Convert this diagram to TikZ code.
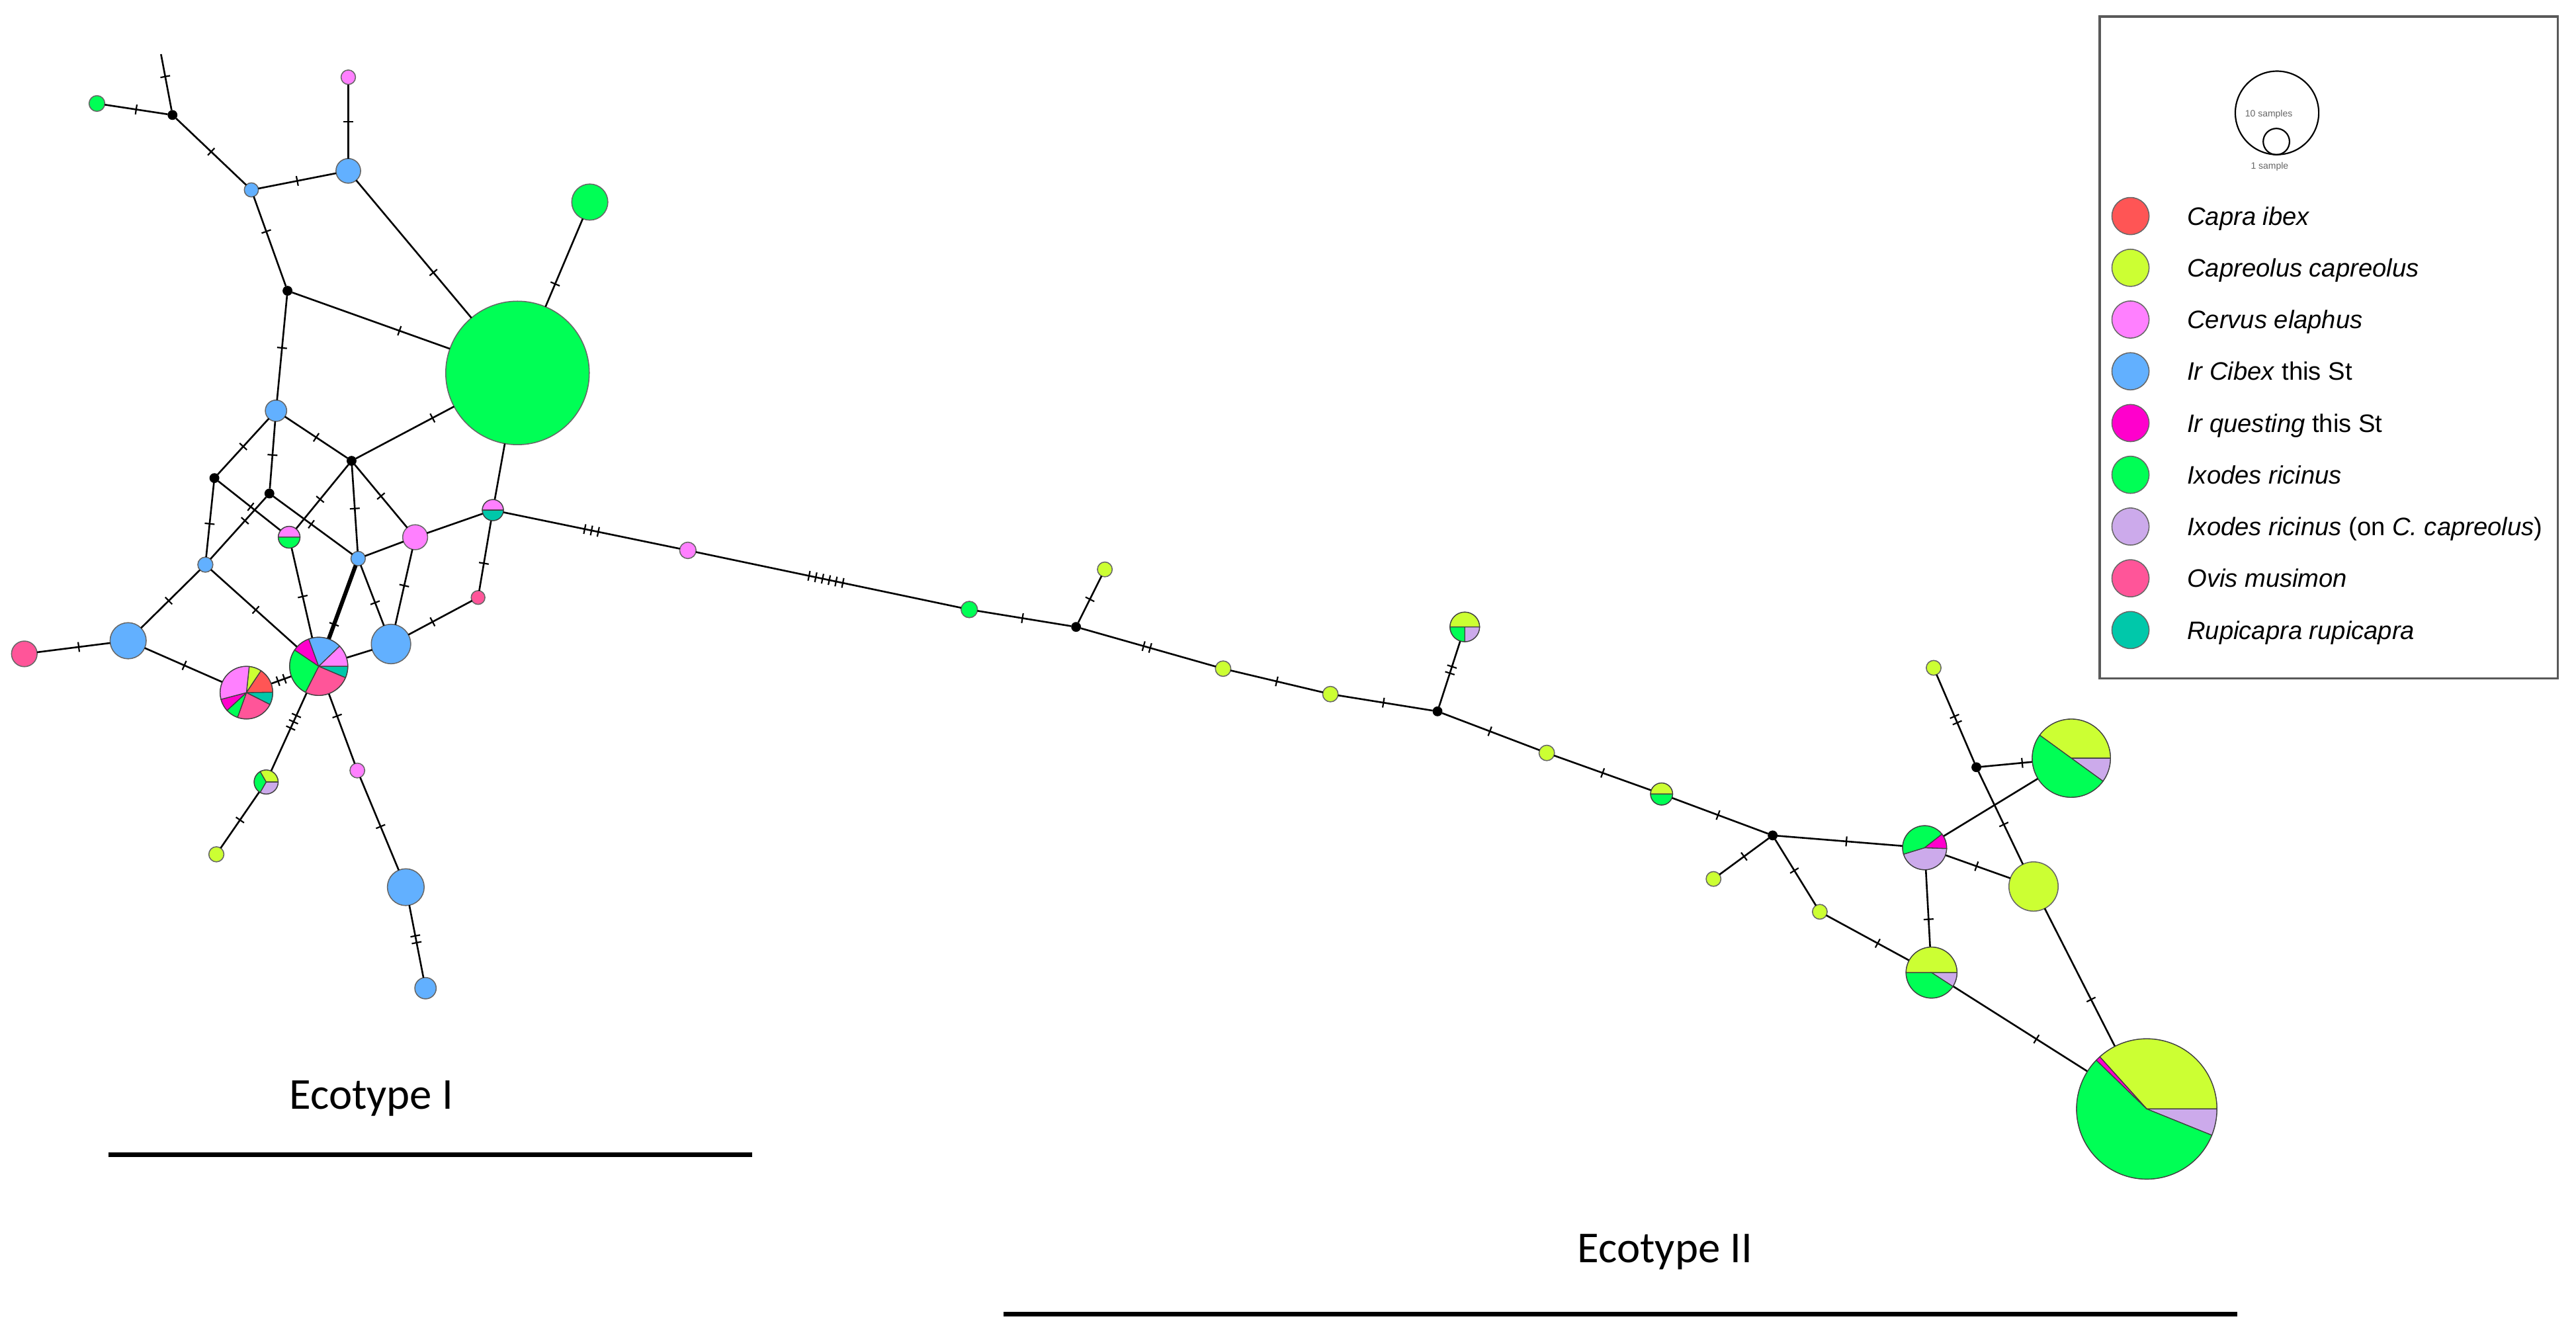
\documentclass[tikz,border=0pt]{standalone}
\usepackage{fontspec}
\setmainfont{Liberation Sans}
\newfontfamily\ecofont{Carlito}
\usetikzlibrary{calc}
\definecolor{capra}{RGB}{255,85,85}
\definecolor{capr}{RGB}{204,255,51}
\definecolor{cerv}{RGB}{255,128,255}
\definecolor{cib}{RGB}{98,176,255}
\definecolor{quest}{RGB}{255,0,204}
\definecolor{ixo}{RGB}{0,255,85}
\definecolor{ixon}{RGB}{204,170,235}
\definecolor{ovis}{RGB}{255,85,153}
\definecolor{rupi}{RGB}{0,200,170}
\tikzset{
  hap/.style={circle, inner sep=0pt, outer sep=0pt, minimum size=#1*0.04cm, draw=black!60, line width=0.35pt},
  mv/.style={circle, fill=black, inner sep=0pt, outer sep=0pt, minimum size=0.12cm},
  edge/.style={line width=0.6pt, black},
  lgtext/.style={anchor=base west, font=\fontsize{8.75}{10}\selectfont, inner sep=0pt},
  ecolabel/.style={anchor=base, inner sep=0pt, font=\ecofont\fontsize{15.3}{18}\selectfont},
  scalelabel/.style={inner sep=0pt, text=black!60, font=\fontsize{3.2}{4}\selectfont},
  pics/mt/.style={code={
    \foreach \k in {1,...,#1}{
      \draw[line width=0.5pt] ({(\k-(#1+1)/2)*0.084cm},-0.06cm) -- ++(0,0.12cm);
    }
  }},
}
\newcommand\pslice[5]{\filldraw[fill=#5, draw=black!75, line width=0.3pt] (#1.center) -- ++(#3:#2) arc[start angle=#3, end angle=#4, radius=#2] -- cycle;}
\begin{document}
\begin{tikzpicture}[x=0.02cm,y=-0.02cm]
\useasboundingbox (0,0) rectangle (1568,811);
% ---------- Ecotype I cluster ----------
\coordinate (top) at (98,33);
\node[hap=4.8, fill=ixo] (g1) at (59,63) {};
\node[mv] (mv1) at (105,70) {};
\node[hap=4.4, fill=cerv] (c1) at (212,47) {};
\node[hap=4.3, fill=cib] (b1) at (153,115.6) {};
\node[hap=7.5, fill=cib] (b2) at (212,104) {};
\node[hap=43.7, fill=ixo] (G) at (315,227) {};
\node[hap=11, fill=ixo] (g2) at (359,123) {};
\node[mv] (mv2) at (175,177) {};
\node[hap=6.5, fill=cib] (b3) at (168,250) {};
\node[mv] (mv3) at (214,280.5) {};
\node[mv] (mv4) at (130.5,291) {};
\node[mv] (mv5) at (164,300.4) {};
\node[hap=6.6] (pg) at (176,327) {};
\node[hap=4.6, fill=cib] (b4) at (125,343.7) {};
\node[hap=4.4, fill=cib] (b5) at (218,340) {};
\node[hap=7.6, fill=cerv] (c2) at (252.7,327) {};
\node[hap=6.4] (pt) at (300,310.5) {};
\node[hap=4.2, fill=ovis] (o1) at (291,363.7) {};
\node[hap=7.8, fill=ovis] (o2) at (14.8,398) {};
\node[hap=11, fill=cib] (b6) at (78,390) {};
\node[hap=16] (MP) at (150,421.6) {};
\node[hap=17.7] (BP) at (194,405.6) {};
\node[hap=12, fill=cib] (b7) at (238,392) {};
\node[hap=7.3] (SP) at (162,476) {};
\node[hap=4.6, fill=capr] (y1) at (131.7,520) {};
\node[hap=4.5, fill=cerv] (c3) at (217.5,469) {};
\node[hap=11.2, fill=cib] (b8) at (247,540) {};
\node[hap=6.5, fill=cib] (b9) at (259,601.5) {};
% ---------- chain and Ecotype II ----------
\node[hap=5, fill=cerv] (c4) at (418.7,335) {};
\node[hap=5, fill=ixo] (g3) at (590,371) {};
\node[mv] (mv6) at (655,381.6) {};
\node[hap=4.5, fill=capr] (y2) at (672.5,346.6) {};
\node[hap=4.7, fill=capr] (y3) at (744.5,407) {};
\node[hap=4.7, fill=capr] (y4) at (809.8,422.5) {};
\node[mv] (mv7) at (875,433) {};
\node[hap=9] (P3) at (891.6,381.6) {};
\node[hap=4.7, fill=capr] (y5) at (941.5,458.3) {};
\node[hap=6.7] (YG) at (1011.4,483.3) {};
\node[mv] (mv8) at (1079,508.5) {};
\node[hap=4.5, fill=capr] (y6) at (1043,535) {};
\node[hap=4.5, fill=capr] (y7) at (1107.7,555) {};
\node[hap=13.4] (P4) at (1171.5,516) {};
\node[hap=15.5] (P5) at (1175.7,592) {};
\node[hap=15, fill=capr] (Y8) at (1237.8,539.6) {};
\node[mv] (mv9) at (1203,467) {};
\node[hap=4.5, fill=capr] (y9) at (1177,406.5) {};
\node[hap=23.8] (P6) at (1260.8,461.5) {};
\node[hap=42.7] (P7) at (1306.7,675) {};
% ---------- edges: Ecotype I ----------
\draw[edge] (top) -- pic[pos=.4,sloped]{mt=1} (mv1);
\draw[edge] (g1) -- pic[pos=.5,sloped]{mt=1} (mv1);
\draw[edge] (mv1) -- pic[pos=.5,sloped]{mt=1} (b1);
\draw[edge] (c1) -- pic[pos=.5,sloped]{mt=1} (b2);
\draw[edge] (b1) -- pic[pos=.5,sloped]{mt=1} (b2);
\draw[edge] (b2) -- pic[pos=.67,sloped]{mt=1} (G);
\draw[edge] (b1) -- pic[pos=.39,sloped]{mt=1} (mv2);
\draw[edge] (mv2) -- pic[pos=.68,sloped]{mt=1} (G);
\draw[edge] (g2) -- pic[pos=.74,sloped]{mt=1} (G);
\draw[edge] (mv2) -- pic[pos=.5,sloped]{mt=1} (b3);
\draw[edge] (G) -- pic[pos=.22,sloped]{mt=1} (mv3);
\draw[edge] (b3) -- pic[pos=.5,sloped]{mt=1} (mv4);
\draw[edge] (b3) -- pic[pos=.5,sloped]{mt=1} (mv5);
\draw[edge] (b3) -- pic[pos=.5,sloped]{mt=1} (mv3);
\draw[edge] (mv4) -- pic[pos=.55,sloped]{mt=1} (b4);
\draw[edge] (mv4) -- pic[pos=.52,sloped]{mt=1} (pg);
\draw[edge] (mv5) -- pic[pos=.38,sloped]{mt=1} (b4);
\draw[edge] (mv5) -- pic[pos=.48,sloped]{mt=1} (b5);
\draw[edge] (mv3) -- pic[pos=.54,sloped]{mt=1} (pg);
\draw[edge] (mv3) -- pic[pos=.5,sloped]{mt=1} (b5);
\draw[edge] (mv3) -- pic[pos=.5,sloped]{mt=1} (c2);
\draw[edge] (b5) -- (c2);
\draw[edge] (c2) -- (pt);
\draw[edge] (G) -- (pt);
\draw[edge] (pt) -- pic[pos=.61,sloped]{mt=1} (o1);
\draw[edge] (o1) -- pic[pos=.62,sloped]{mt=1} (b7);
\draw[edge] (c2) -- pic[pos=.48,sloped]{mt=1} (b7);
\draw[edge] (b5) -- pic[pos=.62,sloped]{mt=1} (b7);
\draw[edge, line width=1.4pt] (b5) -- pic[pos=.8,sloped]{mt=1} (BP);
\draw[edge] (pg) -- pic[pos=.54,sloped]{mt=1} (BP);
\draw[edge] (b4) -- pic[pos=.52,sloped]{mt=1} (BP);
\draw[edge] (b4) -- pic[pos=.53,sloped]{mt=1} (b6);
\draw[edge] (o2) -- pic[pos=.57,sloped]{mt=1} (b6);
\draw[edge] (b6) -- pic[pos=.51,sloped]{mt=1} (MP);
\draw[edge] (MP) -- pic[pos=.5,sloped]{mt=2} (BP);
\draw[edge] (BP) -- (b7);
\draw[edge] (BP) -- pic[pos=.37,sloped]{mt=3} (SP);
\draw[edge] (SP) -- pic[pos=.5,sloped]{mt=1} (y1);
\draw[edge] (BP) -- pic[pos=.32,sloped]{mt=1} (c3);
\draw[edge] (c3) -- pic[pos=.53,sloped]{mt=1} (b8);
\draw[edge] (b8) -- pic[pos=.47,sloped]{mt=2} (b9);
% ---------- edges: chain and Ecotype II ----------
\draw[edge] (pt) -- pic[pos=.5,sloped]{mt=3} (c4);
\draw[edge] (c4) -- pic[pos=.49,sloped]{mt=6} (g3);
\draw[edge] (g3) -- pic[pos=.48,sloped]{mt=1} (mv6);
\draw[edge] (mv6) -- pic[pos=.5,sloped]{mt=1} (y2);
\draw[edge] (mv6) -- pic[pos=.49,sloped]{mt=2} (y3);
\draw[edge] (y3) -- pic[pos=.5,sloped]{mt=1} (y4);
\draw[edge] (y4) -- pic[pos=.48,sloped]{mt=1} (mv7);
\draw[edge] (mv7) -- pic[pos=.56,sloped]{mt=2} (P3);
\draw[edge] (mv7) -- pic[pos=.49,sloped]{mt=1} (y5);
\draw[edge] (y5) -- pic[pos=.5,sloped]{mt=1} (YG);
\draw[edge] (YG) -- pic[pos=.48,sloped]{mt=1} (mv8);
\draw[edge] (mv8) -- pic[pos=.5,sloped]{mt=1} (y6);
\draw[edge] (mv8) -- pic[pos=.47,sloped]{mt=1} (y7);
\draw[edge] (mv8) -- pic[pos=.55,sloped]{mt=1} (P4);
\draw[edge] (y7) -- pic[pos=.62,sloped]{mt=1} (P5);
\draw[edge] (P4) -- pic[pos=.64,sloped]{mt=1} (P5);
\draw[edge] (P4) -- pic[pos=.48,sloped]{mt=1} (Y8);
\draw[edge] (P4) -- (P6);
\draw[edge] (mv9) -- pic[pos=.8,sloped]{mt=1} (P6);
\draw[edge] (mv9) -- pic[pos=.49,sloped]{mt=2} (y9);
\draw[edge] (mv9) -- pic[pos=.57,sloped]{mt=1} (Y8);
\draw[edge] (Y8) -- pic[pos=.66,sloped]{mt=1} (P7);
\draw[edge] (P5) -- pic[pos=.62,sloped]{mt=1} (P7);
% ---------- pie slices (angles clockwise from east) ----------
\pslice{pg}{6.6}{180}{360}{cerv}\pslice{pg}{6.6}{0}{180}{ixo}
\pslice{pt}{6.4}{180}{360}{cerv}\pslice{pt}{6.4}{0}{180}{rupi}
\pslice{MP}{16}{276}{303.7}{capr}
\pslice{MP}{16}{303.7}{359.1}{capra}
\pslice{MP}{16}{-0.9}{26.8}{rupi}
\pslice{MP}{16}{26.8}{109.8}{ovis}
\pslice{MP}{16}{109.8}{137.5}{ixo}
\pslice{MP}{16}{137.5}{165.2}{quest}
\pslice{MP}{16}{165.2}{276}{cerv}
\pslice{BP}{17.7}{214}{250}{quest}
\pslice{BP}{17.7}{250}{316}{cib}
\pslice{BP}{17.7}{316}{360}{cerv}
\pslice{BP}{17.7}{0}{23}{rupi}
\pslice{BP}{17.7}{23}{117}{ovis}
\pslice{BP}{17.7}{117}{214}{ixo}
\pslice{SP}{7.3}{240}{360}{capr}
\pslice{SP}{7.3}{0}{120}{ixon}
\pslice{SP}{7.3}{120}{240}{ixo}
\pslice{P3}{9}{180}{360}{capr}
\pslice{P3}{9}{0}{90}{ixon}
\pslice{P3}{9}{90}{180}{ixo}
\pslice{YG}{6.7}{180}{360}{capr}
\pslice{YG}{6.7}{0}{180}{ixo}
\pslice{P4}{13.4}{2}{163}{ixon}
\pslice{P4}{13.4}{163}{322}{ixo}
\pslice{P4}{13.4}{322}{362}{quest}
\pslice{P5}{15.5}{180}{360}{capr}
\pslice{P5}{15.5}{0}{33}{ixon}
\pslice{P5}{15.5}{33}{180}{ixo}
\pslice{P6}{23.8}{216}{360}{capr}
\pslice{P6}{23.8}{0}{36}{ixon}
\pslice{P6}{23.8}{36}{216}{ixo}
\pslice{P7}{42.7}{228}{360}{capr}
\pslice{P7}{42.7}{0}{22}{ixon}
\pslice{P7}{42.7}{22}{224}{ixo}
\pslice{P7}{42.7}{224}{228}{quest}
% ---------- Ecotype labels ----------
\node[ecolabel] (eco1) at (226,675) {Ecotype I};
\node[ecolabel] (eco2) at (1013.5,768.5) {Ecotype II};
\coordinate (l1a) at (66,703); \coordinate (l1b) at (458,703);
\coordinate (l2a) at (611,800); \coordinate (l2b) at (1362,800);
\draw[line width=1.55pt] (l1a) -- (l1b);
\draw[line width=1.55pt] (l2a) -- (l2b);
% ---------- legend ----------
\draw[black!65, line width=0.8pt] (1278,10) rectangle (1557,413);
\node[circle, draw=black, line width=0.5pt, inner sep=0pt, minimum size=50.8*0.02cm] (sc10) at (1386,68.7) {};
\node[circle, draw=black, line width=0.5pt, inner sep=0pt, minimum size=16*0.02cm] (sc1) at (1385.6,86.2) {};
\node[scalelabel] (sl10) at (1381,69.5) {10 samples};
\node[scalelabel] (sl1) at (1381.5,101.5) {1 sample};
\foreach \col/\txt [count=\i] in {capra/{\textit{Capra ibex}}, capr/{\textit{Capreolus capreolus}}, cerv/{\textit{Cervus elaphus}}, cib/{\textit{Ir Cibex} this St}, quest/{\textit{Ir questing} this St}, ixo/{\textit{Ixodes ricinus}}, ixon/{\textit{Ixodes ricinus} (on \textit{C. capreolus})}, ovis/{\textit{Ovis musimon}}, rupi/{\textit{Rupicapra rupicapra}}}{
  \pgfmathsetmacro\yy{131.5+31.5*(\i-1)}
  \node[hap=11.3, fill=\col] (lgc\i) at (1296.8,\yy) {};
  \node[lgtext] (lgt\i) at (1331,\yy+5.5) {\txt};
}
\end{tikzpicture}
\end{document}
